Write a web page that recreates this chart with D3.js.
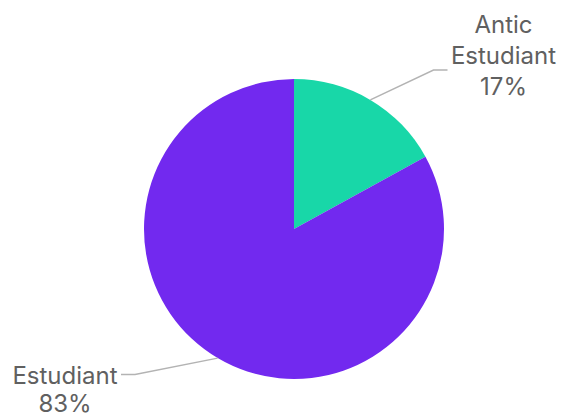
<!DOCTYPE html>
<html>
<head>
<meta charset="utf-8">
<script src="https://cdn.jsdelivr.net/npm/d3@7"></script>
<style>
  html, body { margin: 0; padding: 0; background: #fff; }
  svg { display: block; }
  .lbl { font-family: Inter, "Open Sans", sans-serif; font-size: 24px; fill: #606060; }
</style>
</head>
<body>
<div id="chart"></div>
<script>
// Data
const categories = ["Antic Estudiant", "Estudiant"];
const labelLines = [["Antic", "Estudiant", "17%"], ["Estudiant", "83%"]];
const values = [17, 83];
const colors = ["#18d7a8", "#7229ef"];

const W = 561, H = 414;
const cx = 294, cy = 229, r = 150;

const svg = d3.select("#chart").append("svg")
  .attr("width", W).attr("height", H);

const g = svg.append("g").attr("transform", `translate(${cx},${cy})`);

const pie = d3.pie().sort(null).value(d => d.value);
const arc = d3.arc().innerRadius(0).outerRadius(r);

const data = pie(categories.map((c, i) => ({ name: c, value: values[i], lines: labelLines[i] })));

g.selectAll("path.slice")
  .data(data)
  .enter().append("path")
  .attr("class", "slice")
  .attr("d", arc)
  .attr("fill", (d, i) => colors[i]);

// Leader lines + labels
const polar = (a, rad) => [Math.sin(a) * rad, -Math.cos(a) * rad];

data.forEach(d => {
  const mid = (d.startAngle + d.endAngle) / 2;
  const right = Math.sin(mid) > 0;
  const p0 = polar(mid, r);
  // elbow sits a bit outside the pie, rotated forward from the slice middle
  const elbow = right ? [r * 0.93, -r * 1.06] : [-r * 1.06, r * 0.97];
  const end = [elbow[0] + (right ? 14 : -14), elbow[1]];

  g.append("polyline")
    .attr("points", [p0, elbow, end].map(p => p.join(",")).join(" "))
    .attr("fill", "none")
    .attr("stroke", "#b3b3b3")
    .attr("stroke-width", 1.5);

  const lh = right ? 31 : 28;
  const tx = right ? end[0] + 56 : end[0] - 56;
  const firstBase = right ? end[1] - 37 : end[1] + 9;

  const t = g.append("text")
    .attr("class", "lbl")
    .attr("text-anchor", "middle");
  d.data.lines.forEach((ln, i) => {
    t.append("tspan")
      .attr("x", tx)
      .attr("y", firstBase + i * lh)
      .text(ln);
  });
});
</script>
</body>
</html>
